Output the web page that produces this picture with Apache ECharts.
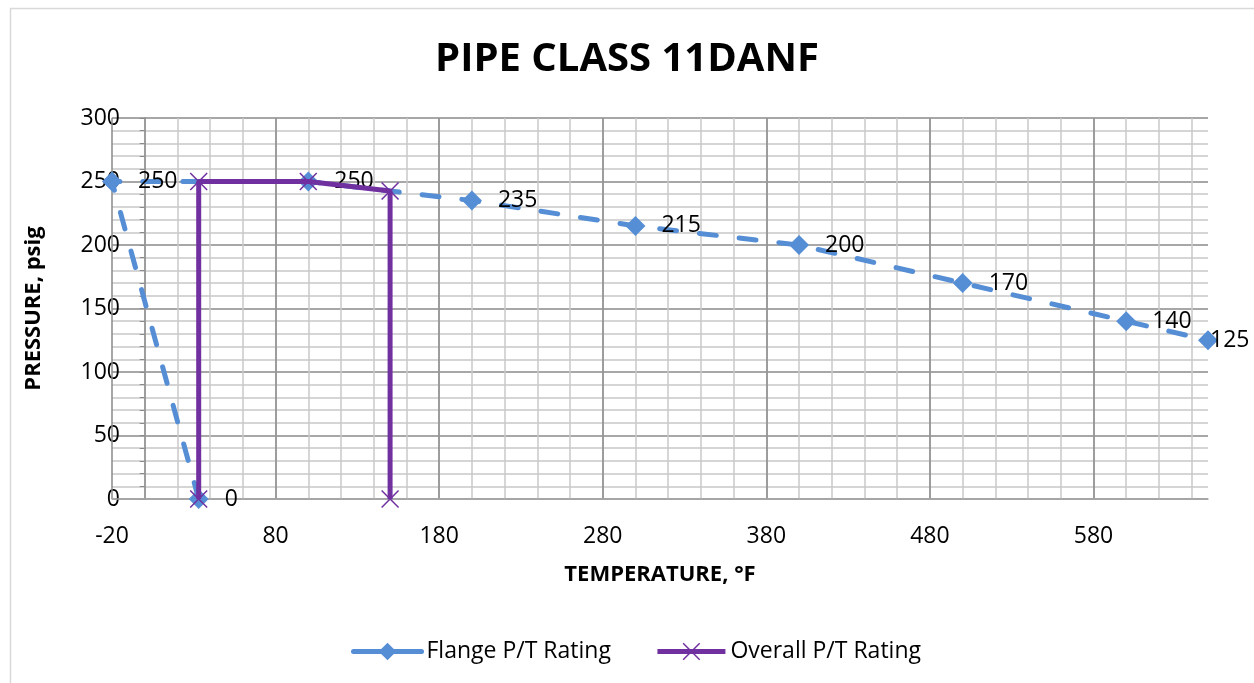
<!DOCTYPE html>
<html><head><meta charset="utf-8">
<script src="https://cdn.jsdelivr.net/npm/echarts@6/dist/echarts.min.js"></script>
<style>html,body{margin:0;padding:0;background:#fff}#c{width:1254px;height:683px}</style>
</head><body><div id="c"></div>
<script>
const titleText = 'PIPE CLASS 11DANF';
const xAxisName = 'TEMPERATURE, °F';
const yAxisName = 'PRESSURE, psig';
const seriesNames = ['Flange P/T Rating', 'Overall P/T Rating'];
const flangeTemps = [33, -20, 100, 200, 300, 400, 500, 600, 650];
const flangePressures = [0, 250, 250, 235, 215, 200, 170, 140, 125];
const overallTemps = [33, 33, 100, 150, 150];
const overallPressures = [0, 250, 250, 242.5, 0];
const xTickLabels = ['-20', '80', '180', '280', '380', '480', '580'];
const yTickLabels = ['0', '50', '100', '150', '200', '250', '300'];

const FONT = '"Open Sans", "Noto Sans", sans-serif';
const BLUE = '#558ED5';
const PURPLE = '#7030A0';
const XSYM = 'path://M0,6L6,0L50,44L94,0L100,6L56,50L100,94L94,100L50,56L6,100L0,94L44,50Z';

const flangeData = flangeTemps.map((t, i) => {
  const item = { value: [t, flangePressures[i]] };
  if (i === flangeTemps.length - 1) item.label = { distance: -8 };
  return item;
});
const overallData = overallTemps.map((t, i) => [t, overallPressures[i]]);

const chart = echarts.init(document.getElementById('c'), null, { renderer: 'canvas' });
chart.setOption({
  animation: false,
  backgroundColor: '#fff',
  graphic: [{
    type: 'rect', left: 8, top: 6, silent: true, z: -10,
    shape: { width: 1400, height: 800 },
    style: { fill: 'none', stroke: '#d9d9d9', lineWidth: 1.5 }
  }],
  title: {
    text: titleText, left: 'center', top: 35,
    textStyle: { fontFamily: FONT, fontWeight: 'bold', fontSize: 40, color: '#000' }
  },
  grid: { left: 112, right: 46, top: 118, bottom: 184 },
  legend: {
    data: seriesNames, left: 346, top: 635,
    itemWidth: 68, itemHeight: 22, itemGap: 44,
    lineStyle: { width: 5, type: 'solid' },
    textStyle: { fontFamily: FONT, fontSize: 23, color: '#000' }
  },
  xAxis: [{
    type: 'value', min: -20, max: 650, interval: 100, z: 1,
    name: xAxisName, nameLocation: 'middle', nameGap: 65,
    nameTextStyle: { fontFamily: FONT, fontWeight: 'bold', fontSize: 22, color: '#000' },
    axisLine: { show: true, onZero: false, lineStyle: { color: '#a6a6a6', width: 1.5 } },
    axisTick: { show: false },
    axisLabel: {
      margin: 26, fontFamily: FONT, fontSize: 23, color: '#000',
      showMaxLabel: false,
      formatter: v => xTickLabels[Math.round((v + 20) / 100)] || ''
    },
    splitLine: { show: true, showMaxLine: false, lineStyle: { color: '#8a8a8a', width: 1.5 } }
  }, {
    type: 'value', min: -20, max: 650, interval: 20, z: 0, position: 'bottom',
    axisLine: { show: false }, axisTick: { show: false }, axisLabel: { show: false },
    splitLine: { show: true, showMaxLine: false, showMinLine: false, lineStyle: { color: '#c8c8c8', width: 1.5 } }
  }],
  yAxis: {
    type: 'value', min: 0, max: 300, interval: 50,
    name: yAxisName, nameLocation: 'middle', nameGap: 67,
    nameTextStyle: { fontFamily: FONT, fontWeight: 'bold', fontSize: 22, color: '#000' },
    axisLine: { show: true, lineStyle: { color: '#8a8a8a', width: 1.5 } },
    axisTick: { show: true, length: 5, lineStyle: { color: '#8a8a8a' } },
    minorTick: { show: true, splitNumber: 5, length: 5, lineStyle: { color: '#8a8a8a' } },
    axisLabel: {
      margin: -8, fontFamily: FONT, fontSize: 23, color: '#000',
      formatter: v => yTickLabels[Math.round(v / 50)] || ''
    },
    splitLine: { show: true, lineStyle: { color: '#8a8a8a', width: 1.5 } },
    minorSplitLine: { show: true, lineStyle: { color: '#c8c8c8', width: 1.5 } }
  },
  series: [{
    type: 'line', name: seriesNames[0], xAxisIndex: 0, data: flangeData,
    symbol: 'diamond', symbolSize: 20, clip: false, z: 3,
    itemStyle: { color: BLUE },
    lineStyle: { color: BLUE, width: 5, type: [17, 23], cap: 'round' },
    label: {
      show: true, position: 'right', distance: 16,
      fontFamily: FONT, fontSize: 23, color: '#000',
      formatter: p => String(p.value[1])
    }
  }, {
    type: 'line', name: seriesNames[1], xAxisIndex: 0, data: overallData,
    symbol: XSYM, symbolSize: 18, clip: false, z: 4,
    itemStyle: { color: PURPLE },
    lineStyle: { color: PURPLE, width: 5 }
  }]
});
</script></body></html>
